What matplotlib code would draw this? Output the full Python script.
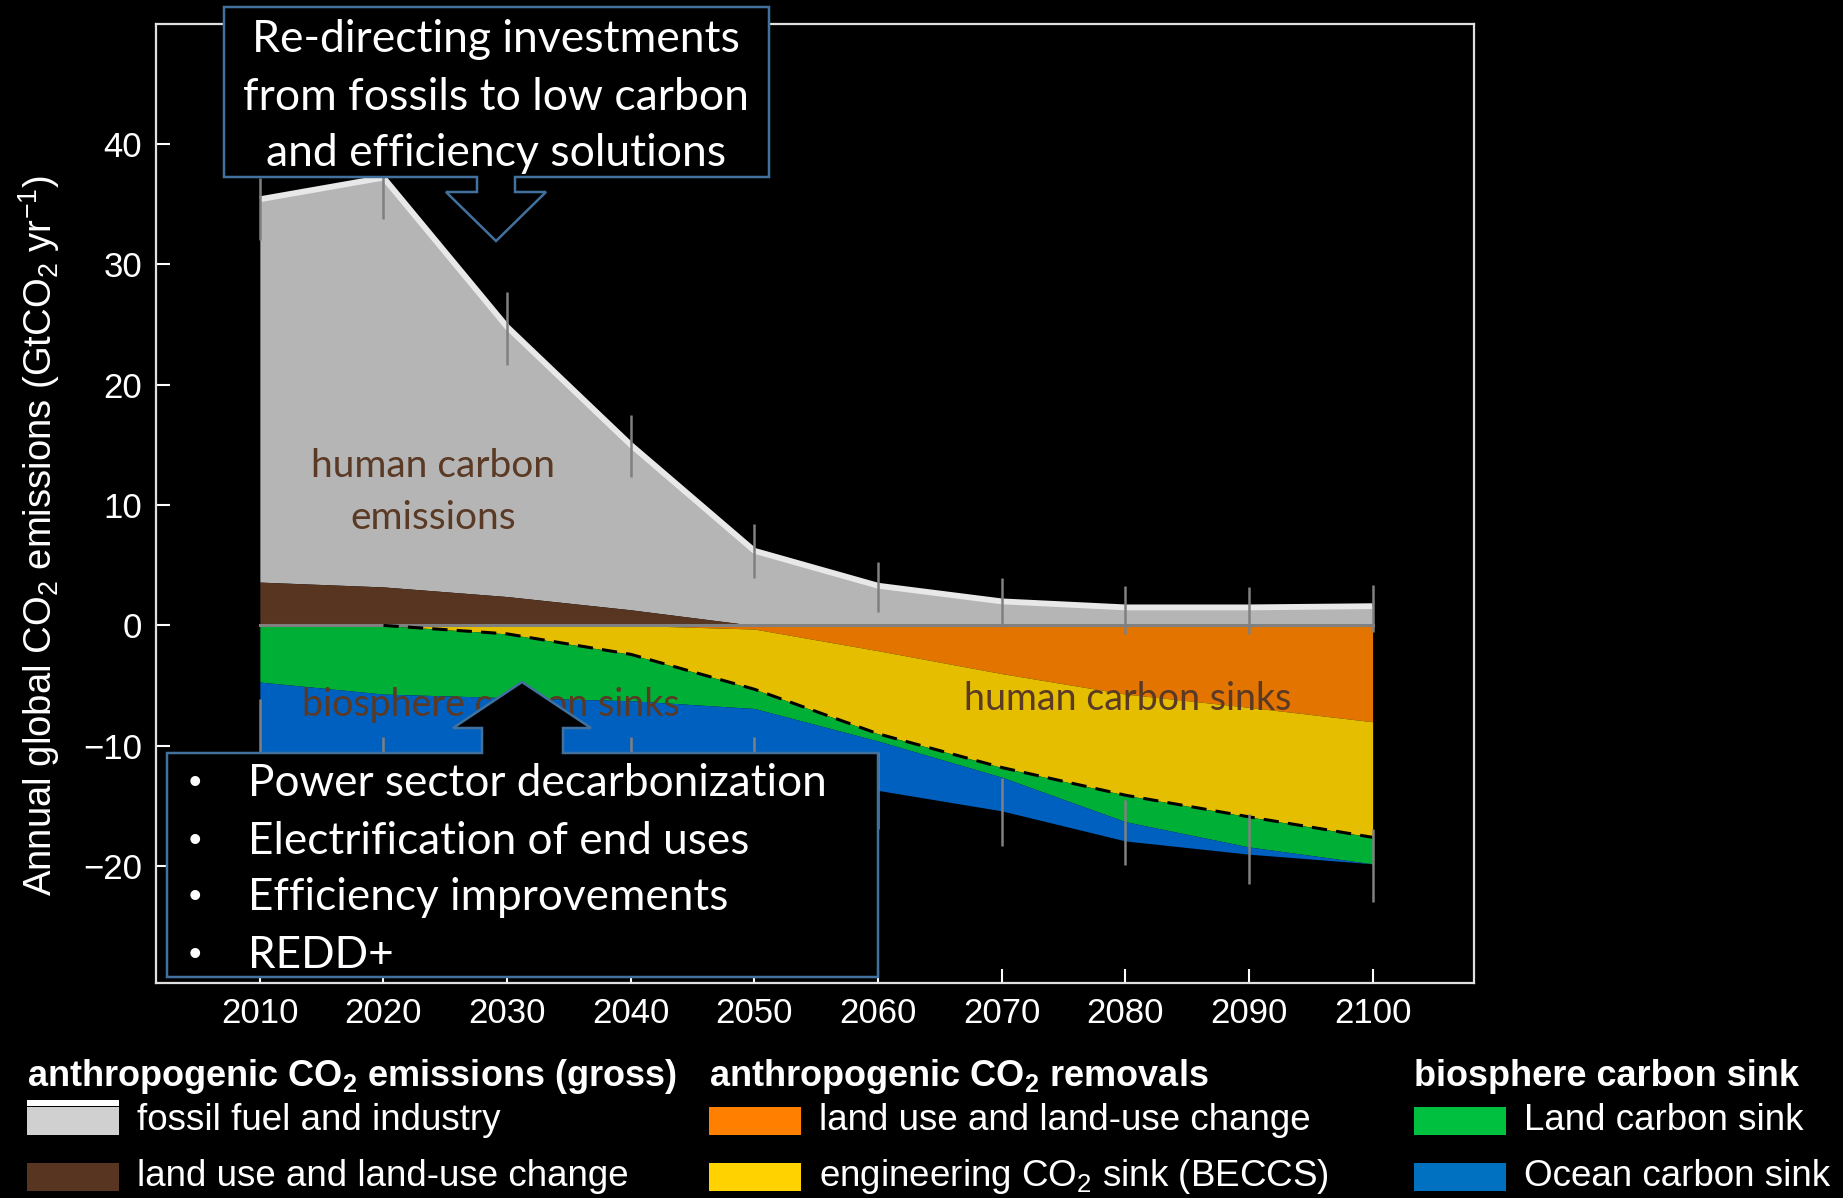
import matplotlib.pyplot as plt
import numpy as np
from matplotlib.patches import Polygon, Rectangle

plt.rcParams["font.family"] = ["Liberation Sans", "DejaVu Sans"]
plt.rcParams["mathtext.fontset"] = "custom"
plt.rcParams["mathtext.rm"] = "Liberation Sans"
plt.rcParams["mathtext.it"] = "Liberation Sans:italic"
plt.rcParams["mathtext.bf"] = "Liberation Sans:bold"

# --- data (GtCO2/yr), read per decade ---
years = [2010, 2020, 2030, 2040, 2050, 2060, 2070, 2080, 2090, 2100]
fossil = [31.8, 34.0, 22.4, 13.7, 6.2, 3.3, 2.0, 1.5, 1.5, 1.6]
luc_emis = [3.6, 3.2, 2.4, 1.3, 0.0, 0.0, 0.0, 0.0, 0.0, 0.0]
luc_removal = [0.0, 0.0, 0.0, 0.0, -0.3, -2.1, -4.0, -5.7, -6.8, -8.0]
beccs = [0.0, 0.0, -0.7, -2.4, -5.0, -6.9, -7.8, -8.4, -9.1, -9.6]
land_sink = [-4.7, -5.7, -5.3, -3.85, -1.6, -0.6, -0.8, -2.2, -2.5, -2.2]
ocean_sink = [-6.0, -6.3, -6.8, -7.0, -6.5, -4.1, -2.8, -1.6, -0.6, 0.0]
emis_err_lo = [32.0, 33.8, 21.6, 12.3, 3.9, 1.1, -0.1, -0.7, -0.7, -0.55]
emis_err_hi = [37.2, 40.5, 27.7, 17.5, 8.4, 5.3, 3.9, 3.3, 3.2, 3.4]
sink_err_lo = [-15.5, -16.5, -17.5, -17.5, -17.5, -16.9, -18.3, -19.9, -21.5, -23.0]
sink_err_hi = [-6.1, -9.3, -9.5, -9.3, -9.3, -10.5, -12.7, -14.5, -15.7, -16.9]

W, H = 1843, 1198
C_GRAY, C_BROWN = "#b5b5b5", "#573520"
C_ORANGE, C_YELLOW = "#e37400", "#e5be00"
C_GREEN, C_BLUE = "#00b036", "#0060c0"
C_EDGE = "#41719c"
C_TXT = "#5a3a24"
CAL = ["Lato", "DejaVu Sans"]


def fx(x):
    return x / W


def fy(y):
    return 1 - y / H


fig = plt.figure(figsize=(W / 100, H / 100), dpi=100, facecolor="black")
ax = fig.add_axes([fx(156), fy(983), (1474 - 156) / W, (983 - 23.5) / H])
ax.set_facecolor("black")

yr = np.array(years)
luc = np.array(luc_emis)
top = luc + np.array(fossil)
orange_bot = np.array(luc_removal)
human = orange_bot + np.array(beccs)
green_bot = human + np.array(land_sink)
blue_bot = green_bot + np.array(ocean_sink)

ax.fill_between(yr, luc, top, color=C_GRAY, lw=0)
ax.fill_between(yr, 0, luc, color=C_BROWN, lw=0)
ax.fill_between(yr, 0, orange_bot, color=C_ORANGE, lw=0)
ax.fill_between(yr, orange_bot, human, color=C_YELLOW, lw=0)
ax.fill_between(yr, human, green_bot, color=C_GREEN, lw=0)
ax.fill_between(yr, green_bot, blue_bot, color=C_BLUE, lw=0)

ax.plot(yr, top, color="#e8e8e8", lw=4.2, solid_capstyle="butt", zorder=3)
ax.plot([yr[0], yr[-1]], [0, 0], color="#808080", lw=2.2, zorder=3)
ax.plot(yr[1:], human[1:], color="black", lw=2.2, dashes=(5, 3), zorder=4)
ax.vlines(yr, emis_err_lo, emis_err_hi, color="#808080", lw=1.8, zorder=5)
ax.vlines(yr, sink_err_lo, sink_err_hi, color="#808080", lw=1.8, zorder=5)

ax.set_xlim(2001.6, 2108.2)
ax.set_ylim(-29.7, 50.0)
ax.set_xticks(years)
ax.set_yticks([-20, -10, 0, 10, 20, 30, 40])
ax.tick_params(colors="white", labelcolor="white", direction="in", length=10,
               width=1.5, labelsize=25, pad=10)
for s in ax.spines.values():
    s.set_color("#e0e0e0")
    s.set_linewidth(1.6)

# area labels
ax.text(2024.0, 11.1, "human carbon\nemissions", color=C_TXT, fontsize=28,
        family=CAL, ha="center", va="center", linespacing=1.55, zorder=6)
ax.text(2028.7, -6.6, "biosphere carbon sinks", color=C_TXT, fontsize=27,
        family=CAL, ha="center", va="center", zorder=6)
ax.text(2080.2, -6.1, "human carbon sinks", color=C_TXT, fontsize=27,
        family=CAL, ha="center", va="center", zorder=6)

# callout boxes (figure pixels)
top_box = [(224, 7), (769, 7), (769, 177), (515, 177), (515, 192), (546, 192),
           (496, 241), (446, 192), (477, 192), (477, 177), (224, 177)]
bot_box = [(167, 753), (482, 753), (482, 728), (453, 728), (522, 682),
           (591, 728), (563, 728), (563, 753), (878, 753), (878, 977), (167, 977)]
for pts in (top_box, bot_box):
    fig.add_artist(Polygon([(fx(x), fy(y)) for x, y in pts], closed=True,
                           transform=fig.transFigure, facecolor="black",
                           edgecolor=C_EDGE, lw=1.8, zorder=10))

for y, line in zip([40, 98, 154], ["Re-directing investments",
                                   "from fossils to low carbon",
                                   "and efficiency solutions"]):
    fig.text(fx(496), fy(y), line, color="white", fontsize=32, family=CAL,
             ha="center", va="center", zorder=11)

bullets = ["Power sector decarbonization", "Electrification of end uses",
           "Efficiency improvements", "REDD+"]
for y, line in zip([784, 841, 898, 956], bullets):
    fig.text(fx(195), fy(y), "\u2022", color="white", fontsize=26,
             ha="center", va="center", zorder=11)
    fig.text(fx(248), fy(y), line, color="white", fontsize=31.8, family=CAL,
             ha="left", va="center", zorder=11)

fig.text(fx(39), fy(535),
         r"Annual global CO$_2$ emissions (GtCO$_2$ yr$^{-1}$)",
         color="white", fontsize=27.5, rotation=90, ha="center", va="center")

# legend
headers = [(27, r"anthropogenic CO$_\mathbf{2}$ emissions (gross)"),
           (709, r"anthropogenic CO$_\mathbf{2}$ removals"),
           (1414, "biosphere carbon sink")]
for x, t in headers:
    fig.text(fx(x), fy(1077), t, color="white", fontsize=26,
             fontweight="bold", ha="left", va="center")

items = [
    (27, 1121, "#d0d0d0", "fossil fuel and industry"),
    (27, 1177, C_BROWN, "land use and land-use change"),
    (709, 1121, "#ff7f00", "land use and land-use change"),
    (709, 1177, "#ffd200", r"engineering CO$_2$ sink (BECCS)"),
    (1414, 1121, "#00c040", "Land carbon sink"),
    (1414, 1177, "#0070c0", "Ocean carbon sink"),
]
for x, y, c, t in items:
    fig.add_artist(Rectangle((fx(x), fy(y + 14)), 92 / W, 28 / H,
                             transform=fig.transFigure, facecolor=c, lw=0))
    fig.text(fx(x + 110), fy(y), t, color="white", fontsize=26.5,
             ha="left", va="center")
fig.add_artist(Rectangle((fx(27), fy(1106)), 92 / W, 6 / H,
                         transform=fig.transFigure, facecolor="white", lw=0))

fig.savefig("out.png", dpi=100, facecolor="black")
